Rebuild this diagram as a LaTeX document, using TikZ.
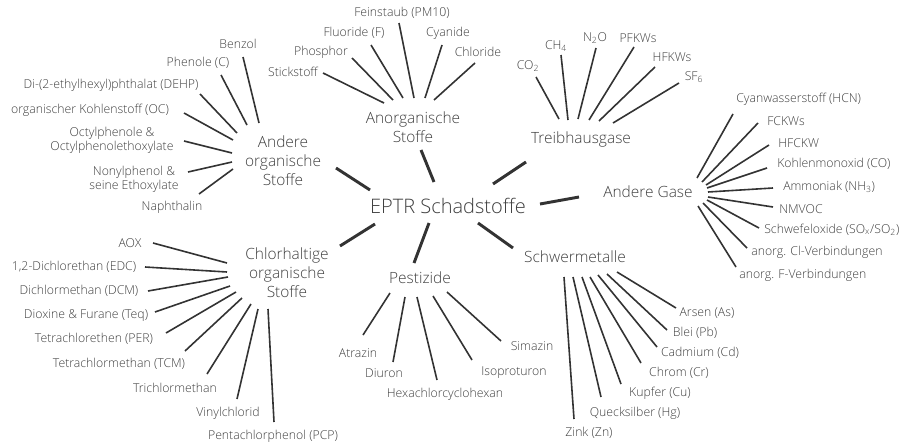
\documentclass[tikz,border=0pt]{standalone}
\usepackage{fontspec}
\setmainfont{Open Sans Light}
\definecolor{txt}{HTML}{3F3F3F}
\definecolor{ln}{HTML}{333333}
\newcommand\spoke[3]{\path (#2) coordinate (#1-a) (#3) coordinate (#1-b); \draw[leafline] (#1-a) -- (#1-b);}
\newcommand\branch[3]{\path (#2) coordinate (#1-a) (#3) coordinate (#1-b); \draw[hubline] (#1-a) -- (#1-b);}
\begin{document}
\begin{tikzpicture}[x=0.75pt,y=-0.75pt,
  leaf/.style={text=txt,font=\fontsize{9.2}{10.6}\selectfont,inner sep=0pt,align=center},
  leafw/.style={leaf,anchor=west},
  cat/.style={text=txt,font=\fontsize{11.6}{14.25}\selectfont,inner sep=0pt,align=center},
  root/.style={text=txt,font=\fontsize{15}{18}\selectfont,inner sep=0pt},
  leafline/.style={draw=ln,line width=1.2pt},
  hubline/.style={draw=ln,line width=2.2pt}]
\useasboundingbox (0,0) rectangle (899,446);
% root
\node[root] (root) at (448,206) {EPTR Schadstoffe};
% categories
\node[cat] (ao) at (283,161) {Andere\\organische\\Stoffe};
\node[cat] (an) at (413,127) {Anorganische\\Stoffe};
\node[cat] (tg) at (581,139) {Treibhausgase};
\node[cat] (ag) at (648,192) {Andere Gase};
\node[cat] (ch) at (287,273) {Chlorhaltige\\organische\\Stoffe};
\node[cat] (pe) at (420,278) {Pestizide};
\node[cat] (sm) at (575,257) {Schwermetalle};
% root branches
\branch{bao}{336,168}{370,190}
\branch{ban}{421,150}{434,182}
\branch{btg}{526,162}{493,184}
\branch{bag}{540,204}{579,197}
\branch{bsm}{478,223}{513,248}
\branch{bpe}{429,223}{414,263}
\branch{bch}{375,224}{340,246}
% Andere organische Stoffe
\node[leaf] (benzol) at (238,44) {Benzol};
\node[leaf] (phenole) at (198,63) {Phenole (C)};
\node[leaf] (dehp) at (111,85) {Di-(2-ethylhexyl)phthalat (DEHP)};
\node[leaf] (oc) at (90,110) {organischer Kohlenstoff (OC)};
\node[leaf] (octyl) at (112,140) {Octylphenole \&\\Octylphenolethoxylate};
\node[leaf] (nonyl) at (134,179) {Nonylphenol \&\\seine Ethoxylate};
\node[leaf] (naph) at (172,207) {Naphthalin};
\spoke{lbenzol}{243,57}{259,123}
\spoke{lphenole}{221,75}{247,125}
\spoke{ldehp}{200,94}{237,133}
\spoke{loc}{184,113}{233,140}
\spoke{locty}{184,141}{232,153}
\spoke{lnony}{188,172}{232,162}
\spoke{lnaph}{199,194}{233,169}
% Anorganische Stoffe
\node[leaf] (pm) at (402,13) {Feinstaub (PM10)};
\node[leaf] (fl) at (354,33) {Fluoride (F)};
\node[leaf] (cy) at (448,33) {Cyanide};
\node[leaf] (ph) at (321,52) {Phosphor};
\node[leaf] (cl) at (478,52) {Chloride};
\node[leaf] (st) at (293,72) {Stickstoff};
\spoke{lpm}{399,23}{414,98}
\spoke{lfl}{371,45}{403,98}
\spoke{lcy}{442,45}{425,98}
\spoke{lph}{352,58}{393,100}
\spoke{lcl}{475,63}{434,100}
\spoke{lst}{323,73}{384,103}
% Treibhausgase
\node[leaf] (co2) at (528,66) {CO\textsubscript{2}};
\node[leaf] (ch4) at (556,46) {CH\textsubscript{4}};
\node[leaf] (n2o) at (595,38) {N\textsubscript{2}O};
\node[leaf] (pfkw) at (638,38) {PFKWs};
\node[leaf] (hfkw) at (672,57) {HFKWs};
\node[leaf] (sf6) at (694,77) {SF\textsubscript{6}};
\spoke{lco2}{536,77}{559,119}
\spoke{lch4}{561,55}{568,120}
\spoke{ln2o}{596,48}{578,119}
\spoke{lpfkw}{634,47}{589,120}
\spoke{lhfkw}{655,67}{599,121}
\spoke{lsf6}{679,83}{613,123}
% Andere Gase
\node[leafw] (hcn) at (736,99) {Cyanwasserstoff (HCN)};
\node[leafw] (fckw) at (767,121) {FCKWs};
\node[leafw] (hfckw) at (778,143) {HFCKW};
\node[leafw] (co) at (777,164) {Kohlenmonoxid (CO)};
\node[leafw] (nh3) at (783,187) {Ammoniak (NH\textsubscript{3})};
\node[leafw] (nmvoc) at (779,209) {NMVOC};
\node[leafw] (sox) at (764,230) {Schwefeloxide (SO\textsubscript{x}/SO\textsubscript{2})};
\node[leafw] (clv) at (751,252) {anorg. Cl-Verbindungen};
\node[leafw] (fv) at (739,275) {anorg. F-Verbindungen};
\spoke{lhcn}{733,114}{697,178}
\spoke{lfckw}{758,123}{702,182}
\spoke{lhfckw}{769,145}{706,185}
\spoke{lco}{767,168}{707,188}
\spoke{lnh3}{773,188}{708,192}
\spoke{lnmvoc}{773,207}{708,197}
\spoke{lsox}{759,228}{707,200}
\spoke{lclv}{747,248}{703,203}
\spoke{lfv}{736,267}{698,206}
% Chlorhaltige organische Stoffe
\node[leaf] (aox) at (130,243) {AOX};
\node[leaf] (edc) at (74,267) {1,2-Dichlorethan (EDC)};
\node[leaf] (dcm) at (79,291) {Dichlormethan (DCM)};
\node[leaf] (teq) at (86,316) {Dioxine \& Furane (Teq)};
\node[leaf] (per) at (94,339) {Tetrachlorethen (PER)};
\node[leaf] (tcm) at (119,364) {Tetrachlormethan (TCM)};
\node[leaf] (tri) at (175,388) {Trichlormethan};
\node[leaf] (vin) at (228,413) {Vinylchlorid};
\node[leaf] (pcp) at (273,436) {Pentachlorphenol (PCP)};
\spoke{laox}{153,243}{227,263}
\spoke{ledc}{145,267}{227,272}
\spoke{ldcm}{148,291}{228,277}
\spoke{lteq}{155,312}{230,286}
\spoke{lper}{166,333}{236,292}
\spoke{ltcm}{185,351}{242,298}
\spoke{ltri}{207,374}{251,304}
\spoke{lvin}{237,399}{258,309}
\spoke{lpcp}{274,422}{268,309}
% Pestizide
\node[leaf] (atr) at (358,353) {Atrazin};
\node[leaf] (diu) at (384,373) {Diuron};
\node[leaf] (hex) at (445,394) {Hexachlorcyclohexan};
\node[leaf] (iso) at (514,373) {Isoproturon};
\node[leaf] (sim) at (532,346) {Simazin};
\spoke{latr}{390,293}{363,335}
\spoke{ldiu}{405,297}{393,362}
\spoke{lhex}{417,297}{437,380}
\spoke{liso}{433,296}{472,360}
\spoke{lsim}{447,292}{501,341}
% Schwermetalle
\node[leaf] (as) at (707,313) {Arsen (As)};
\node[leaf] (pb) at (695,333) {Blei (Pb)};
\node[leaf] (cd) at (700,353) {Cadmium (Cd)};
\node[leaf] (cr) at (679,373) {Chrom (Cr)};
\node[leaf] (cu) at (660,393) {Kupfer (Cu)};
\node[leaf] (hg) at (635,413) {Quecksilber (Hg)};
\node[leaf] (zn) at (589,433) {Zink (Zn)};
\spoke{las}{617,272}{676,308}
\spoke{lpb}{607,274}{667,330}
\spoke{lcd}{598,275}{657,347}
\spoke{lcr}{590,277}{641,363}
\spoke{lcu}{582,277}{621,384}
\spoke{lhg}{573,277}{601,397}
\spoke{lzn}{564,277}{574,419}
\end{tikzpicture}
\end{document}
